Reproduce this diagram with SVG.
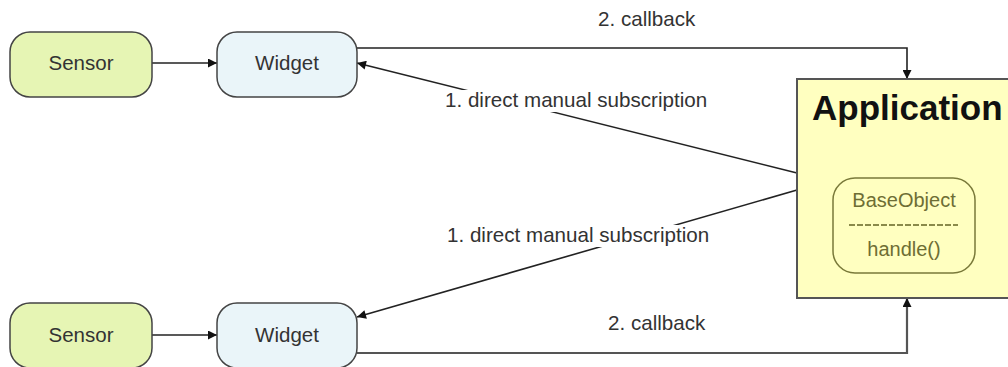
<svg xmlns="http://www.w3.org/2000/svg" width="1008" height="367" viewBox="0 0 1008 367">
<defs>
<marker id="ah" viewBox="0 0 10 10" refX="10" refY="5" markerWidth="10" markerHeight="9" markerUnits="userSpaceOnUse" orient="auto"><path d="M0,0 L10,5 L0,10 z" fill="#111"/></marker>
<style>
text{font-family:"Liberation Sans",Arial,sans-serif;}
.sensor{fill:#e6f5b4;stroke:#444;stroke-width:1.5;}
.widget{fill:#eaf5f9;stroke:#444;stroke-width:1.5;}
.nt{font-size:20.5px;fill:#333;text-anchor:middle;}
.lbl{font-size:20.6px;fill:#333;}
.conn{fill:none;stroke:#222;stroke-width:1.6;}
.bg{fill:#fff;}
</style>
</defs>
<rect width="1008" height="367" fill="#fff"/>
<g id="connectors">
<line class="conn" x1="152" y1="63" x2="217" y2="63" marker-end="url(#ah)"/>
<line class="conn" x1="152" y1="335" x2="217" y2="335" marker-end="url(#ah)"/>
<polyline class="conn" points="357,48 907,48 907,79" marker-end="url(#ah)"/>
<polyline class="conn" points="357,353 907,353 907,298" marker-end="url(#ah)" style="stroke:#555;stroke-width:2.2"/>
<line class="conn" x1="797" y1="173" x2="357" y2="63" marker-end="url(#ah)"/>
<line class="conn" x1="797" y1="190" x2="357" y2="317" marker-end="url(#ah)"/>
<rect class="bg" x="443" y="90" width="268" height="22"/>
<rect class="bg" x="445" y="225" width="266" height="22"/>
<text class="lbl" x="598" y="26">2. callback</text>
<text class="lbl" x="445" y="107">1. direct manual subscription</text>
<text class="lbl" x="447" y="242">1. direct manual subscription</text>
<text class="lbl" x="608" y="330">2. callback</text>
</g>
<g id="sensor1"><rect class="sensor" x="10" y="32" width="142" height="65" rx="20"/><text class="nt" x="81" y="70">Sensor</text></g>
<g id="widget1"><rect class="widget" x="217" y="32" width="140" height="65" rx="20"/><text class="nt" x="287" y="70">Widget</text></g>
<g id="sensor2"><rect class="sensor" x="10" y="303" width="142" height="65" rx="20"/><text class="nt" x="81" y="342">Sensor</text></g>
<g id="widget2"><rect class="widget" x="217" y="303" width="140" height="65" rx="20"/><text class="nt" x="287" y="342">Widget</text></g>
<g id="application">
<rect x="797" y="79" width="220" height="219" fill="#ffffc0" stroke="#555" stroke-width="2"/>
<text x="812" y="120" font-size="35" font-weight="bold" fill="#111">Application</text>
<g id="baseobject">
<rect x="833" y="178" width="142" height="95" rx="22" fill="#ffffc0" stroke="#7a7a3a" stroke-width="1.5"/>
<text x="904" y="207" font-size="20" fill="#6e6e34" text-anchor="middle">BaseObject</text>
<line x1="849" y1="225" x2="958" y2="225" stroke="#8a8a4a" stroke-width="2" stroke-dasharray="6,2"/>
<text x="904" y="256" font-size="20" fill="#6e6e34" text-anchor="middle">handle()</text>
</g>
</g>
</svg>
